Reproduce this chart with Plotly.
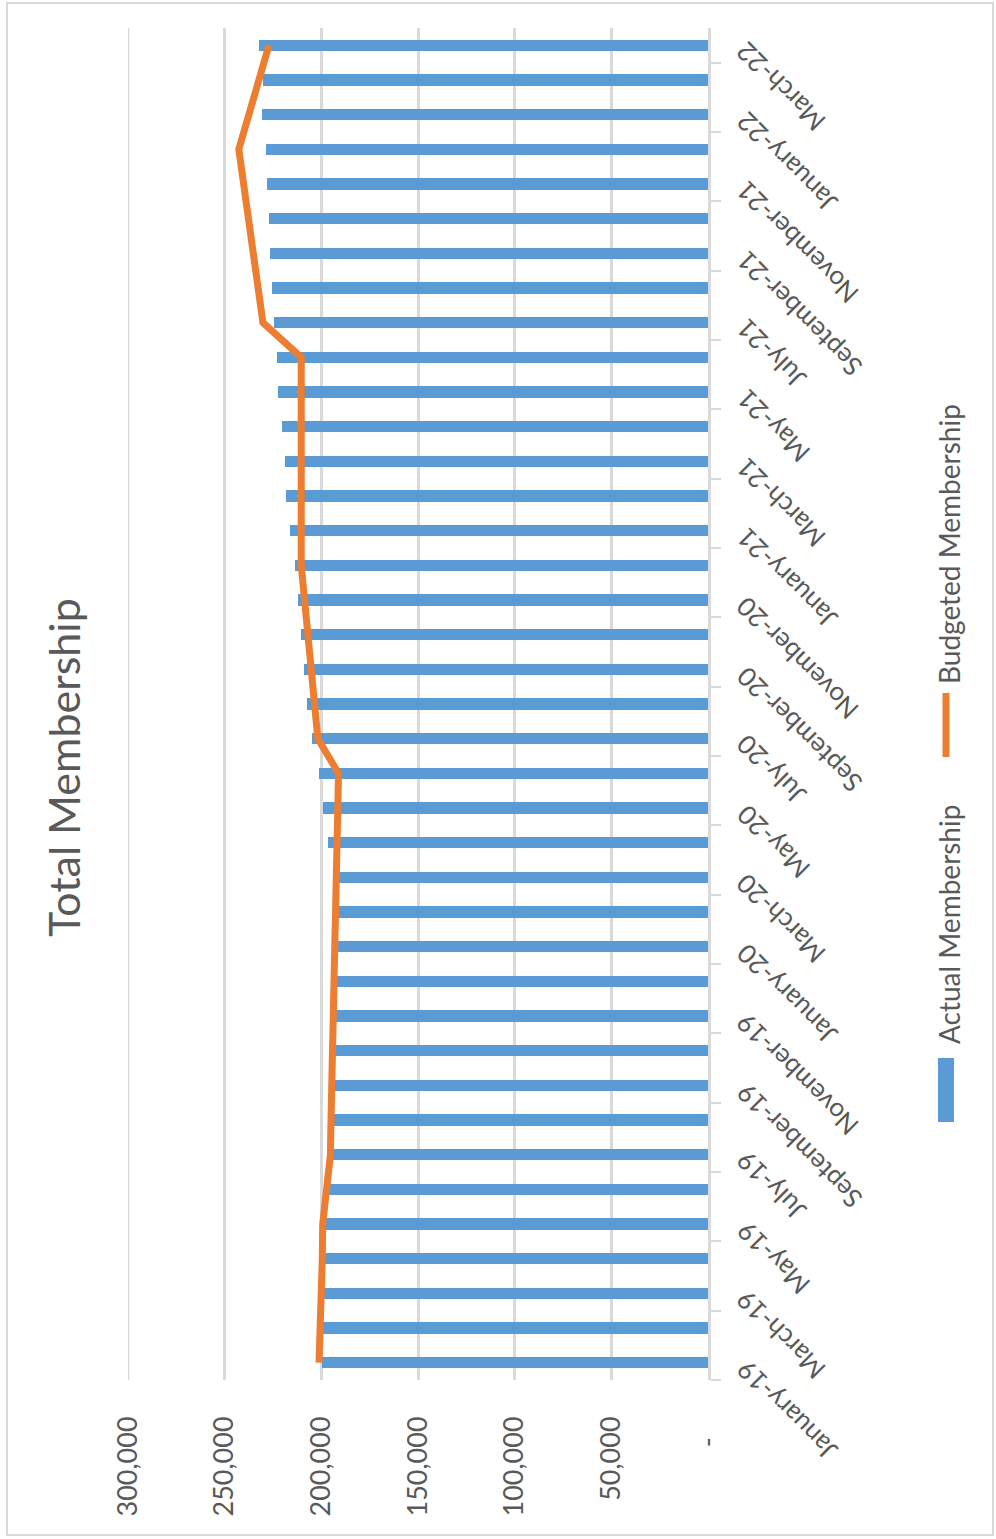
import plotly.graph_objects as go

# ---- data -------------------------------------------------------------
months = [
    "January-19", "February-19", "March-19", "April-19", "May-19", "June-19",
    "July-19", "August-19", "September-19", "October-19", "November-19", "December-19",
    "January-20", "February-20", "March-20", "April-20", "May-20", "June-20",
    "July-20", "August-20", "September-20", "October-20", "November-20", "December-20",
    "January-21", "February-21", "March-21", "April-21", "May-21", "June-21",
    "July-21", "August-21", "September-21", "October-21", "November-21", "December-21",
    "January-22", "February-22", "March-22",
]

actual_membership = [
    199500, 199200, 198800, 198600, 197500, 196000, 194000, 193300, 193500, 196000, 193800, 193600,
    193700, 193800, 194000, 196600, 199200, 201400, 204700, 207500, 209000, 210700, 212200, 213800,
    216400, 218100, 218800, 220600, 222300, 223000, 224700, 225600, 226400, 227300, 228000, 228800,
    230500, 230200, 232300,
]

budgeted_membership = [
    201200, 200400, 199800, 199500, 199300, 197600, 195300, 195000, 194600, 194400, 194000, 193600,
    193100, 192700, 192200, 191800, 191300, 191100, 201800, 203500, 205200, 207000, 208700, 210400,
    210400, 210400, 210400, 210400, 210400, 210400, 230200, 232700, 235200, 237700, 240200, 242700,
    237500, 232300, 227100,
]

value_ticks = [0, 50000, 100000, 150000, 200000, 250000, 300000]
value_tick_text = ["-\u00a0\u00a0\u00a0", "50,000", "100,000", "150,000", "200,000", "250,000", "300,000"]

category_labels = months[::2]  # every second month is labelled

# ---- layout geometry (pixels) ----------------------------------------
W, H = 996, 1539
PLOT_L, PLOT_R = 128, 708
PLOT_T, PLOT_B = 28, 1380

FONT = "Lato, 'Open Sans', sans-serif"
TEXT = "#595959"
GRID = "#d9d9d9"
BLUE = "#5b9bd5"
ORANGE = "#ed7d31"


def px_x(px):
    return (px - PLOT_L) / (PLOT_R - PLOT_L)


def px_y(py):
    return (PLOT_B - py) / (PLOT_B - PLOT_T)


idx = list(range(len(months)))

fig = go.Figure()
fig.add_trace(go.Bar(
    x=actual_membership, y=idx, orientation="h", width=0.32,
    marker=dict(color=BLUE, line=dict(width=0)),
    name="Actual Membership", showlegend=False,
))
fig.add_trace(go.Scatter(
    x=budgeted_membership, y=idx, mode="lines",
    line=dict(color=ORANGE, width=7),
    name="Budgeted Membership", showlegend=False,
))

annotations = []
# month labels on the category axis, reading upside-down at a slant
for i, lab in enumerate(months):
    if lab not in category_labels:
        continue
    annotations.append(dict(
        text=lab, xref="paper", yref="y", x=1, y=i, xshift=19, yshift=12,
        xanchor="left", yanchor="top", textangle=-135, showarrow=False,
        font=dict(family=FONT, size=26, color=TEXT),
    ))

# chart title
annotations.append(dict(
    text="Total Membership", xref="paper", yref="paper",
    x=px_x(63), y=px_y(768), xanchor="center", yanchor="middle",
    textangle=-90, showarrow=False,
    font=dict(family=FONT, size=43, color=TEXT),
))

# legend entries
annotations.append(dict(
    text="Budgeted Membership", xref="paper", yref="paper",
    x=px_x(949), y=px_y(544), xanchor="center", yanchor="middle",
    textangle=-90, showarrow=False,
    font=dict(family=FONT, size=28, color=TEXT),
))
annotations.append(dict(
    text="Actual Membership", xref="paper", yref="paper",
    x=px_x(949), y=px_y(925), xanchor="center", yanchor="middle",
    textangle=-90, showarrow=False,
    font=dict(family=FONT, size=28, color=TEXT),
))

shapes = [
    # outer chart border
    dict(type="rect", xref="paper", yref="paper",
         x0=px_x(7), x1=px_x(993), y0=px_y(3), y1=px_y(1535),
         line=dict(color=GRID, width=2), fillcolor="rgba(0,0,0,0)", layer="below"),
    # gridline on the far edge of the value axis
    dict(type="line", xref="x", yref="paper", x0=300000, x1=300000, y0=0, y1=1,
         line=dict(color=GRID, width=2.5), layer="below"),
    # legend keys
    dict(type="line", xref="paper", yref="paper",
         x0=px_x(946), x1=px_x(946), y0=px_y(693), y1=px_y(757),
         line=dict(color=ORANGE, width=7)),
    dict(type="rect", xref="paper", yref="paper",
         x0=px_x(938), x1=px_x(954), y0=px_y(1058), y1=px_y(1122),
         line=dict(width=0), fillcolor=BLUE),
]

fig.update_layout(
    width=W, height=H,
    margin=dict(l=PLOT_L, r=W - PLOT_R, t=PLOT_T, b=H - PLOT_B, pad=0),
    paper_bgcolor="white", plot_bgcolor="white",
    showlegend=False,
    bargap=0,
    annotations=annotations,
    shapes=shapes,
    xaxis=dict(
        range=[300000, 0], tickvals=value_ticks, ticktext=value_tick_text,
        tickangle=-90, ticks="", ticklabelstandoff=30,
        showgrid=True, gridcolor=GRID, gridwidth=2.5,
        zeroline=False, showline=False,
        tickfont=dict(family=FONT, size=27, color=TEXT),
    ),
    yaxis=dict(
        range=[-0.5, len(months) - 0.5], side="right",
        tickvals=[i - 0.5 for i in range(0, len(months), 2)],
        ticktext=["" for _ in range(0, len(months), 2)],
        ticks="outside", ticklen=10, tickwidth=2, tickcolor=GRID,
        showgrid=False, zeroline=False,
        showline=True, linecolor=GRID, linewidth=2.5,
    ),
)

fig.write_html("out.html")
